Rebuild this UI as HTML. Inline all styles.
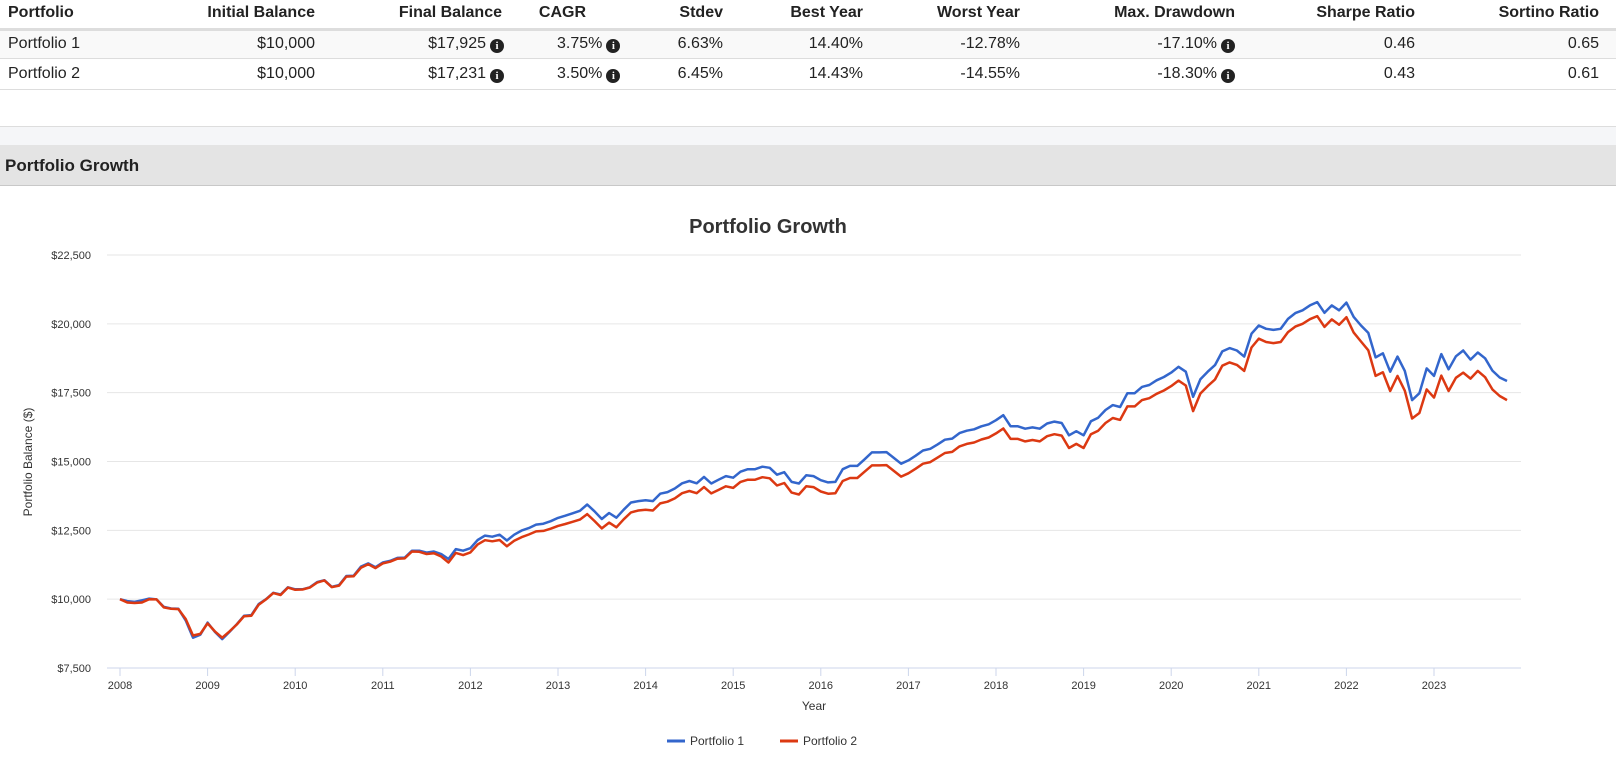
<!DOCTYPE html>
<html><head><meta charset="utf-8"><style>
body{margin:0;width:1616px;height:761px;overflow:hidden;background:#fff;font-family:"Liberation Sans",sans-serif;color:#222;position:relative}
.c{position:absolute;font-size:16px;white-space:nowrap;text-align:right}
.h{font-weight:bold}
.info{display:inline-block;width:14px;height:14px;border-radius:50%;background:#222;color:#fff;font:bold 11px "Liberation Serif",serif;text-align:center;line-height:14px;vertical-align:-1px;margin-left:4px}
</style></head><body>
<div>
<div style="position:absolute;left:0;top:28px;width:1616px;height:3px;background:#ddd"></div>
<div style="position:absolute;left:0;top:31px;width:1616px;height:27px;background:#f9f9f9;border-bottom:1px solid #ddd"></div>
<div style="position:absolute;left:0;top:89px;width:1616px;height:1px;background:#ddd"></div>
<div class="c h" style="left:8px;top:4px;text-align:left">Portfolio</div>
<div class="c h" style="right:1301px;top:4px">Initial Balance</div>
<div class="c h" style="right:1114px;top:4px">Final Balance</div>
<div class="c h" style="right:1030px;top:4px">CAGR</div>
<div class="c h" style="right:893px;top:4px">Stdev</div>
<div class="c h" style="right:753px;top:4px">Best Year</div>
<div class="c h" style="right:596px;top:4px">Worst Year</div>
<div class="c h" style="right:381px;top:4px">Max. Drawdown</div>
<div class="c h" style="right:201px;top:4px">Sharpe Ratio</div>
<div class="c h" style="right:17px;top:4px">Sortino Ratio</div>

<div class="c" style="left:8px;top:35px;text-align:left">Portfolio 1</div>
<div class="c" style="right:1301px;top:35px">$10,000</div>
<div class="c" style="right:1112px;top:35px">$17,925<span class="info">i</span></div>
<div class="c" style="top:35px;text-align:left;left:557px">3.75%<span class="info">i</span></div>
<div class="c" style="right:893px;top:35px">6.63%</div>
<div class="c" style="right:753px;top:35px">14.40%</div>
<div class="c" style="right:596px;top:35px">-12.78%</div>
<div class="c" style="right:381px;top:35px">-17.10%<span class="info">i</span></div>
<div class="c" style="right:201px;top:35px">0.46</div>
<div class="c" style="right:17px;top:35px">0.65</div>

<div class="c" style="left:8px;top:65px;text-align:left">Portfolio 2</div>
<div class="c" style="right:1301px;top:65px">$10,000</div>
<div class="c" style="right:1112px;top:65px">$17,231<span class="info">i</span></div>
<div class="c" style="top:65px;text-align:left;left:557px">3.50%<span class="info">i</span></div>
<div class="c" style="right:893px;top:65px">6.45%</div>
<div class="c" style="right:753px;top:65px">14.43%</div>
<div class="c" style="right:596px;top:65px">-14.55%</div>
<div class="c" style="right:381px;top:65px">-18.30%<span class="info">i</span></div>
<div class="c" style="right:201px;top:65px">0.43</div>
<div class="c" style="right:17px;top:65px">0.61</div>
</div>
<div style="position:absolute;left:0;top:126px;width:1616px;height:18px;background:#f5f6f8;border-top:1px solid #ddd;border-bottom:1px solid #ccc"></div>
<div style="position:absolute;left:0;top:145px;width:1616px;height:40px;background:#e4e4e4;border-bottom:1px solid #c8c8c8">
<div style="position:absolute;left:5px;top:11px;font-weight:bold;font-size:17px;color:#222">Portfolio Growth</div></div>
<svg id="chart" width="1616" height="761" style="position:absolute;left:0;top:0"></svg>
<script>
const startYear = 2008;
const yTicks = [7500, 10000, 12500, 15000, 17500, 20000, 22500];
const yTickLabels = ["$7,500","$10,000","$12,500","$15,000","$17,500","$20,000","$22,500"];
const xTickYears = [2008,2009,2010,2011,2012,2013,2014,2015,2016,2017,2018,2019,2020,2021,2022,2023];
const seriesNames = ["Portfolio 1","Portfolio 2"];
const p1 = [10000,9930,9900,9960,10020,9990,9720,9660,9650,9230,8600,8710,9150,8810,8550,8810,9090,9400,9420,9820,
10000,10230,10170,10430,10360,10360,10430,10620,10690,10450,10510,10840,10850,11180,11300,11160,11330,11390,11500,11510,
11760,11760,11690,11730,11640,11460,11820,11760,11850,12150,12310,12270,12340,12130,12340,12490,12580,12710,12740,12830,
12950,13030,13120,13210,13440,13190,12910,13130,12960,13250,13510,13560,13590,13560,13830,13890,14020,14210,14290,14210,
14440,14200,14340,14470,14410,14630,14720,14720,14810,14770,14520,14610,14260,14200,14500,14470,14320,14240,14260,14720,
14840,14840,15080,15330,15330,15340,15130,14920,15040,15210,15400,15460,15620,15790,15830,16030,16120,16170,16280,16350,
16500,16680,16280,16280,16190,16240,16190,16380,16450,16400,15950,16100,15950,16460,16590,16870,17050,16980,17480,17480,
17710,17780,17950,18070,18230,18440,18260,17350,17990,18260,18500,19000,19120,19030,18810,19640,19940,19820,19780,19820,
20180,20390,20490,20670,20790,20400,20670,20490,20770,20250,19940,19670,18780,18930,18260,18810,18290,17230,17480,18380,
18110,18900,18350,18820,19030,18700,18960,18750,18300,18050,17925];
const p2 = [10000,9880,9860,9880,10000,9990,9700,9650,9640,9280,8680,8740,9120,8830,8600,8830,9080,9380,9400,9800,
9990,10220,10150,10420,10340,10350,10420,10600,10680,10440,10490,10820,10830,11140,11270,11130,11300,11360,11470,11480,
11730,11720,11640,11670,11550,11330,11680,11600,11700,11990,12140,12100,12150,11920,12120,12250,12350,12460,12480,12560,
12660,12730,12810,12890,13090,12840,12570,12780,12610,12900,13150,13220,13250,13220,13480,13540,13660,13850,13930,13850,
14070,13840,13970,14100,14040,14260,14340,14340,14430,14390,14130,14220,13870,13800,14100,14070,13910,13830,13850,14290,
14400,14400,14630,14860,14860,14870,14660,14450,14570,14740,14920,14980,15140,15310,15350,15550,15640,15690,15800,15870,
16020,16200,15820,15820,15730,15780,15730,15920,15990,15940,15490,15640,15490,15990,16120,16400,16580,16510,17000,17000,
17230,17300,17460,17580,17740,17940,17760,16830,17470,17740,17980,18480,18600,18510,18290,19140,19460,19340,19300,19340,
19700,19900,20000,20170,20280,19890,20160,19970,20240,19680,19360,19040,18110,18240,17560,18110,17570,16560,16760,17620,
17320,18120,17560,18040,18230,18010,18290,18060,17620,17380,17231];
const NS='http://www.w3.org/2000/svg';
const svg=document.getElementById('chart');
const X0=120, PX_YEAR=87.6, PL=107, PR=1521, YT=255, YB=668, VMIN=7500, VMAX=22500;
const xs=i=>X0+i/12*PX_YEAR;
const xYear=y=>X0+(y-startYear)*PX_YEAR;
const ys=v=>YB-(v-VMIN)/(VMAX-VMIN)*(YB-YT);
function mk(tag,attrs,text){const e=document.createElementNS(NS,tag);for(const k in attrs)e.setAttribute(k,attrs[k]);if(text!==undefined)e.textContent=text;svg.appendChild(e);return e;}
let t=mk('text',{x:768,y:233,'text-anchor':'middle','font-size':'20','font-weight':'bold',fill:'#333','font-family':'Liberation Sans'},'Portfolio Growth');


yTicks.forEach((v,i)=>{
  const g=mk('line',{x1:PL,x2:PR,y1:ys(v),y2:ys(v),stroke:i===0?'#ccd6eb':'#e6e6e6','stroke-width':1});
  
  
  const l=mk('text',{x:91,y:ys(v)+4,'text-anchor':'end','font-size':'11',fill:'#333','font-family':'Liberation Sans'},yTickLabels[i]);
  
  
});
xTickYears.forEach(y=>{
  const tk=mk('line',{x1:xYear(y),x2:xYear(y),y1:YB,y2:YB+8,stroke:'#ccd6eb'});
  
  
  const l=mk('text',{x:xYear(y),y:YB+21,'text-anchor':'middle','font-size':'11',fill:'#333','font-family':'Liberation Sans'},String(y));
  
  
});
t=mk('text',{x:814,y:710,'text-anchor':'middle','font-size':'12',fill:'#333','font-family':'Liberation Sans'},'Year');


t=mk('text',{x:32,y:462,'text-anchor':'middle','font-size':'12',fill:'#333','font-family':'Liberation Sans',transform:'rotate(-90 32 462)'},'Portfolio Balance ($)');


const colors=['#3366cc','#dc3912'];
[p1,p2].forEach((s,k)=>{
  const d=s.map((v,i)=>(i?'L':'M')+xs(i).toFixed(1)+' '+ys(v).toFixed(1)).join(' ');
  const p=mk('path',{d:d,fill:'none',stroke:colors[k],'stroke-width':2.5,'stroke-linejoin':'round'});
  
  
});
[[667,690],[780,803]].forEach((pos,k)=>{
  const ln=mk('line',{x1:pos[0],x2:pos[0]+18,y1:741,y2:741,stroke:colors[k],'stroke-width':3});
  
  
  const tx=mk('text',{x:pos[1],y:745,'font-size':'12',fill:'#333','font-family':'Liberation Sans'},seriesNames[k]);
  
  
});
</script>
</body></html>
